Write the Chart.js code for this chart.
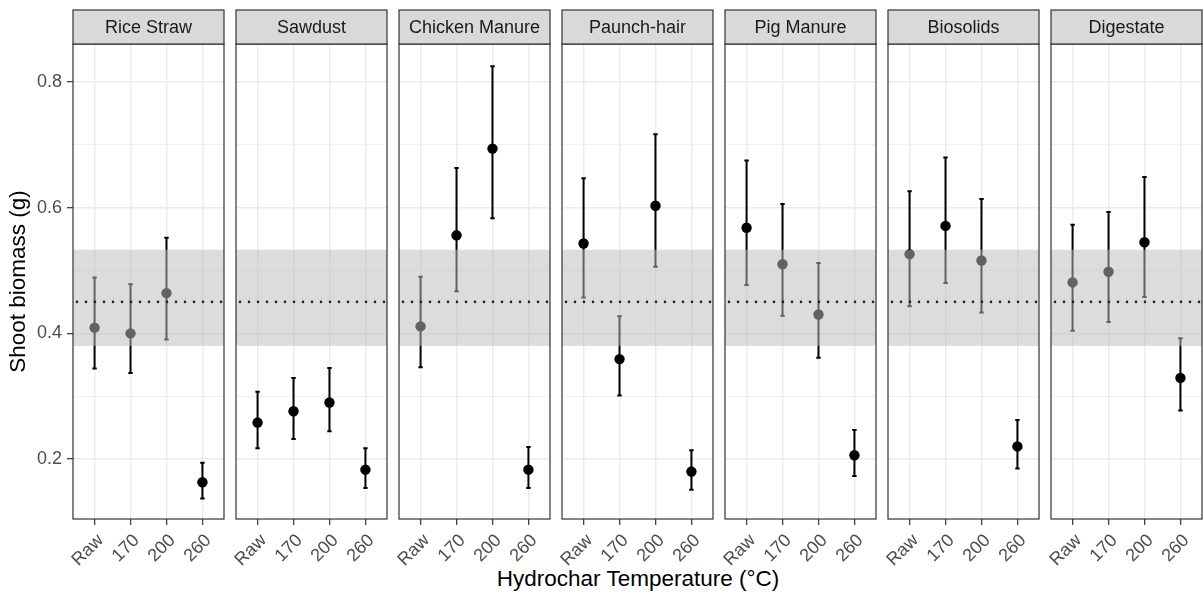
<!DOCTYPE html>
<html>
<head>
<meta charset="utf-8">
<script src="https://cdn.jsdelivr.net/npm/chart.js@4/dist/chart.umd.min.js"></script>
<style>
  html, body { margin: 0; padding: 0; background: #fff; }
  #wrap { position: relative; width: 1204px; height: 597px; overflow: hidden; }
  #wrap canvas { position: absolute; top: 0; }
  #xtitle {
    position: absolute; left: 73px; width: 1130px; top: 566px;
    text-align: center; font: 22.5px "Liberation Sans", Arial, sans-serif;
    line-height: 26px; color: #000;
  }
</style>
</head>
<body>
<div id="wrap">
  <div id="xtitle">Hydrochar Temperature (°C)</div>
</div>
<script>
const feedstocks = ["Rice Straw", "Sawdust", "Chicken Manure", "Paunch-hair", "Pig Manure", "Biosolids", "Digestate"];
const temps = ["Raw", "170", "200", "260"];

// mean shoot biomass, one row per feedstock
const shootMean = [
  [0.409, 0.400, 0.464, 0.163],
  [0.258, 0.276, 0.290, 0.183],
  [0.411, 0.556, 0.694, 0.183],
  [0.543, 0.359, 0.603, 0.180],
  [0.568, 0.510, 0.430, 0.206],
  [0.526, 0.571, 0.516, 0.220],
  [0.481, 0.498, 0.545, 0.329],
];
const shootLow = [
  [0.344, 0.337, 0.390, 0.137],
  [0.217, 0.232, 0.244, 0.154],
  [0.346, 0.467, 0.583, 0.154],
  [0.457, 0.301, 0.506, 0.151],
  [0.477, 0.428, 0.361, 0.173],
  [0.443, 0.480, 0.433, 0.185],
  [0.404, 0.418, 0.458, 0.277],
];
const shootHigh = [
  [0.489, 0.478, 0.552, 0.194],
  [0.307, 0.329, 0.345, 0.217],
  [0.490, 0.663, 0.825, 0.219],
  [0.647, 0.427, 0.717, 0.214],
  [0.675, 0.606, 0.512, 0.246],
  [0.626, 0.680, 0.614, 0.262],
  [0.573, 0.593, 0.649, 0.392],
];

// control (no hydrochar) mean and its range
const controlMean = 0.45;
const controlLow = 0.38;
const controlHigh = 0.533;

const yTickValues = [0.2, 0.3, 0.4, 0.5, 0.6, 0.7, 0.8];
const yTickLabels = ["0.2", "", "0.4", "", "0.6", "", "0.8"];
const yMin = 0.1045;
const yMax = 0.8605;

Chart.defaults.font.family = '"Liberation Sans", Arial, sans-serif';
Chart.defaults.animation = false;

const FONT = '"Liberation Sans", Arial, sans-serif';
const panelLeft = 73;
const panelPitch = 163;
const panelWidth = 151;
const sidePad = 16;
const stripTop = 10;
const canvasH = 597;
const plotBottom = 519;

let panelDecor = (k) => ({
  id: "panelDecor",
  beforeDatasetsDraw(chart) {
    const { ctx } = chart;
    const xs = chart.scales.x;
    const ys = chart.scales.y;
    ctx.save();
    ctx.strokeStyle = "#000";
    ctx.lineWidth = 2;
    temps.forEach((t, i) => {
      const px = xs.getPixelForValue(i);
      const lo = ys.getPixelForValue(shootLow[k][i]);
      const hi = ys.getPixelForValue(shootHigh[k][i]);
      ctx.beginPath();
      ctx.moveTo(px, lo);
      ctx.lineTo(px, hi);
      ctx.moveTo(px - 2.2, lo);
      ctx.lineTo(px + 2.2, lo);
      ctx.moveTo(px - 2.2, hi);
      ctx.lineTo(px + 2.2, hi);
      ctx.stroke();
    });
    ctx.restore();
  },
  afterDatasetsDraw(chart) {
    const { ctx, chartArea: a } = chart;
    const ys = chart.scales.y;
    ctx.save();
    // control band sits over the marks, like the original
    const bTop = ys.getPixelForValue(controlHigh);
    const bBot = ys.getPixelForValue(controlLow);
    ctx.fillStyle = "rgba(188,188,188,0.52)";
    ctx.fillRect(a.left, bTop, a.right - a.left, bBot - bTop);

    const yRef = ys.getPixelForValue(controlMean);
    ctx.strokeStyle = "#222";
    ctx.lineWidth = 2.6;
    ctx.lineCap = "round";
    ctx.setLineDash([0, 9]);
    ctx.beginPath();
    ctx.moveTo(a.left + 4, yRef);
    ctx.lineTo(a.right, yRef);
    ctx.stroke();
    ctx.setLineDash([]);

    ctx.strokeStyle = "#333";
    ctx.lineWidth = 1.2;
    ctx.strokeRect(a.left, a.top, a.right - a.left, a.bottom - a.top);
    ctx.restore();
  },
  afterDraw(chart) {
    const { ctx, chartArea: a } = chart;
    ctx.save();
    ctx.fillStyle = "#d9d9d9";
    ctx.fillRect(a.left, stripTop, a.right - a.left, a.top - stripTop);
    ctx.strokeStyle = "#333";
    ctx.lineWidth = 1.2;
    ctx.strokeRect(a.left, stripTop, a.right - a.left, a.top - stripTop);
    ctx.fillStyle = "#1a1a1a";
    ctx.font = "18px " + FONT;
    ctx.textAlign = "center";
    ctx.textBaseline = "middle";
    ctx.fillText(feedstocks[k], (a.left + a.right) / 2, (stripTop + a.top) / 2 + 1);
    ctx.restore();
  },
});

const wrap = document.getElementById("wrap");

feedstocks.forEach((name, k) => {
  const first = k === 0;
  const left = first ? 0 : panelLeft + panelPitch * k - sidePad;
  const width = first ? panelLeft + panelWidth + 8 : panelWidth + sidePad + 8;

  const canvas = document.createElement("canvas");
  canvas.width = width;
  canvas.height = canvasH;
  canvas.style.left = left + "px";
  canvas.style.width = width + "px";
  canvas.style.height = canvasH + "px";
  wrap.appendChild(canvas);

  new Chart(canvas.getContext("2d"), {
    type: "scatter",
    data: {
      datasets: [
        {
          label: name,
          data: temps.map((t, i) => ({ x: i, y: shootMean[k][i] })),
          backgroundColor: "#000",
          borderWidth: 0,
          pointRadius: 5.2,
          pointHoverRadius: 5.2,
        },
      ],
    },
    options: {
      responsive: false,
      devicePixelRatio: 1,
      layout: { padding: { left: first ? 0 : sidePad, right: 8, top: 44, bottom: 0 } },
      plugins: { legend: { display: false }, tooltip: { enabled: false } },
      scales: {
        x: {
          type: "linear",
          min: -0.6,
          max: 3.6,
          afterBuildTicks: (scale) => {
            scale.ticks = temps.map((t, i) => ({ value: i }));
          },
          afterFit: (scale) => {
            scale.height = canvasH - plotBottom;
          },
          border: { display: false },
          grid: {
            color: "#ebebeb",
            lineWidth: 1.4,
            tickLength: 6,
            tickColor: "#333",
            tickWidth: 1.2,
          },
          ticks: {
            autoSkip: false,
            minRotation: 45,
            maxRotation: 45,
            padding: 5,
            labelOffset: 6,
            color: "#4d4d4d",
            font: { size: 18 },
            callback: (v) => temps[v],
          },
        },
        y: {
          min: yMin,
          max: yMax,
          afterBuildTicks: (scale) => {
            scale.ticks = yTickValues.map((v) => ({ value: v }));
          },
          afterFit: (scale) => {
            scale.width = first ? panelLeft : 0;
          },
          border: { display: false },
          grid: {
            color: "#ebebeb",
            lineWidth: (c) => (yTickLabels[c.index] ? 1.4 : 0.7),
            drawTicks: first,
            tickLength: 6,
            tickColor: (c) => (yTickLabels[c.index] ? "#333" : "rgba(0,0,0,0)"),
            tickWidth: 1.2,
          },
          ticks: {
            display: first,
            autoSkip: false,
            padding: 5,
            color: "#4d4d4d",
            font: { size: 18 },
            callback: (v, i) => yTickLabels[i],
          },
          title: {
            display: first,
            text: "Shoot biomass (g)",
            color: "#000",
            font: { size: 22.5 },
            padding: { top: 5, bottom: 0 },
          },
        },
      },
    },
    plugins: [panelDecor(k)],
  });
});
</script>
</body>
</html>
